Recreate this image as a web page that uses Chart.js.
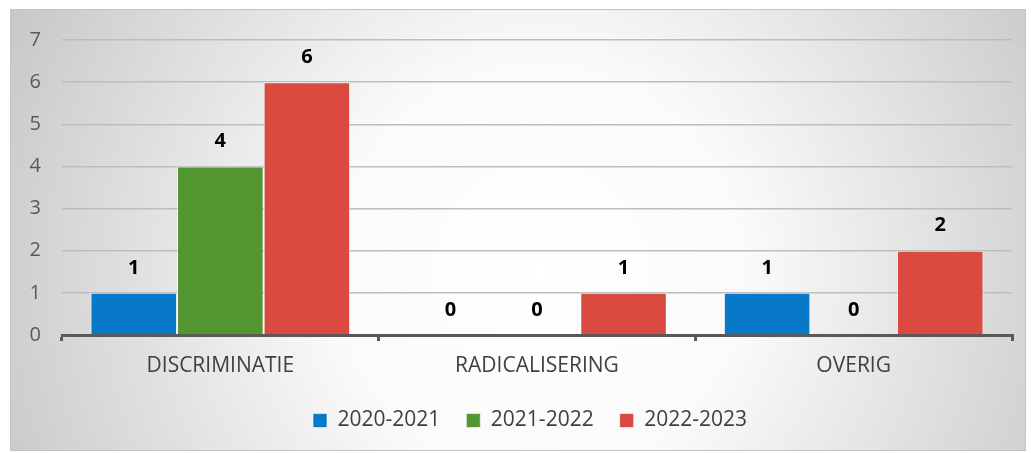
<!DOCTYPE html>
<html>
<head>
<meta charset="utf-8">
<script src="https://cdn.jsdelivr.net/npm/chart.js@4.4.0/dist/chart.umd.min.js"></script>
<style>
  html, body { margin: 0; padding: 0; background: #ffffff; }
  #wrap { width: 1031px; height: 453px; position: relative; }
</style>
</head>
<body>
<div id="wrap"><canvas id="chart"></canvas></div>
<script>
  var categories = ['DISCRIMINATIE', 'RADICALISERING', 'OVERIG'];
  var seriesNames = ['2020-2021', '2021-2022', '2022-2023'];
  var values2020 = [1, 0, 1];
  var values2021 = [4, 0, 0];
  var values2022 = [6, 1, 2];
  var yTicks = [0, 1, 2, 3, 4, 5, 6, 7];

  var colors = ['#0779c8', '#529632', '#db4a40'];

  // frame + gradient background, legend centred under the plot area
  var backgroundPlugin = {
    id: 'bg',
    beforeDraw: function (chart) {
      if (chart.legend) chart.legend.left = chart.chartArea.left - 14;
      var ctx = chart.ctx;
      ctx.save();
      var g = ctx.createRadialGradient(540, 270, 0, 540, 270, 600);
      g.addColorStop(0, '#ffffff');
      g.addColorStop(0.35, '#fafafa');
      g.addColorStop(1, '#c6c6c6');
      ctx.fillStyle = g;
      ctx.fillRect(10, 9, 1015, 441);
      ctx.strokeStyle = '#c4c4c4';
      ctx.lineWidth = 1;
      ctx.strokeRect(10.5, 9.5, 1015, 441);
      ctx.restore();
    }
  };

  // value labels above the bars
  var valueLabels = {
    id: 'valueLabels',
    afterDatasetsDraw: function (chart) {
      var ctx = chart.ctx;
      ctx.save();
      ctx.font = 'bold 20px "Open Sans"';
      ctx.fillStyle = '#000000';
      ctx.textAlign = 'center';
      ctx.textBaseline = 'middle';
      chart.data.datasets.forEach(function (ds, i) {
        chart.getDatasetMeta(i).data.forEach(function (bar, j) {
          ctx.fillText(ds.data[j], bar.x, bar.y - 25);
        });
      });
      ctx.restore();
    }
  };

  var ctx = document.getElementById('chart').getContext('2d');
  new Chart(ctx, {
    type: 'bar',
    data: {
      labels: categories,
      datasets: [
        { label: seriesNames[0], data: values2020, backgroundColor: colors[0] },
        { label: seriesNames[1], data: values2021, backgroundColor: colors[1] },
        { label: seriesNames[2], data: values2022, backgroundColor: colors[2] }
      ]
    },
    options: {
      responsive: true,
      maintainAspectRatio: false,
      animation: false,
      layout: { padding: { left: 10, right: 19, top: 40, bottom: 12 } },
      datasets: {
        bar: {
          categoryPercentage: 0.82,
          barPercentage: 1.0,
          borderColor: 'rgba(255,255,255,0.6)',
          borderWidth: 1
        }
      },
      scales: {
        x: {
          afterFit: function (scale) { scale.height = 49; },
          grid: {
            drawOnChartArea: false,
            drawTicks: true,
            tickLength: 6,
            color: '#595959',
            lineWidth: 3
          },
          border: { display: true, color: '#595959', width: 3 },
          ticks: {
            color: '#404040',
            font: { family: 'Open Sans', size: 21 },
            padding: 12
          }
        },
        y: {
          min: 0,
          max: 7,
          afterBuildTicks: function (scale) {
            scale.ticks = yTicks.map(function (v) { return { value: v }; });
          },
          afterFit: function (scale) { scale.width = 52; },
          grid: { color: '#bdbdbd', lineWidth: 1.5, drawTicks: false },
          border: { display: false },
          ticks: {
            color: '#595959',
            font: { family: 'Open Sans', size: 20 },
            padding: 21
          }
        }
      },
      plugins: {
        legend: {
          position: 'bottom',
          labels: {
            boxWidth: 14,
            boxHeight: 14,
            padding: 26,
            color: '#404040',
            font: { family: 'Open Sans', size: 21 }
          }
        },
        tooltip: { enabled: false }
      }
    },
    plugins: [backgroundPlugin, valueLabels]
  });
</script>
</body>
</html>
